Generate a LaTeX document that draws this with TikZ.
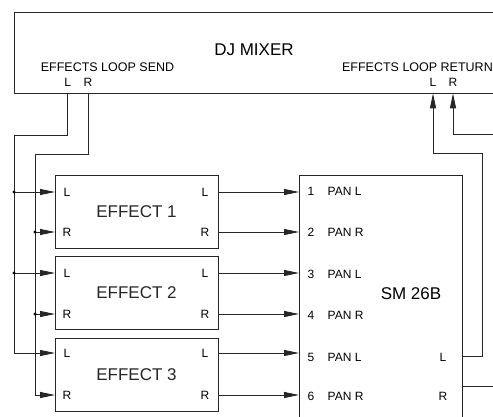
\documentclass[tikz,border=0pt]{standalone}
\usepackage{fontspec}
\setmainfont{Liberation Sans}
\usetikzlibrary{arrows.meta}
\begin{document}
\begin{tikzpicture}[x=1pt,y=-1pt,
  wire/.style={line width=0.9pt,black!85},
  arr/.style={wire,-{Triangle[length=15pt,width=6pt]}},
  fxbox/.style={draw,line width=0.9pt,black!85,minimum width=163pt,minimum height=73pt,inner sep=0pt,font=\fontsize{17}{20}\selectfont},
  big/.style={inner sep=0pt,font=\fontsize{17}{20}\selectfont},
  lbl/.style={inner sep=0pt,font=\fontsize{12}{14}\selectfont},
  mid/.style={inner sep=0pt,font=\fontsize{12.5}{14}\selectfont},
  junction/.style={circle,fill=black,inner sep=0pt,minimum size=3.4pt}]
\useasboundingbox (0,0) rectangle (493,417);
% DJ mixer (right edge outside picture)
\draw[wire] (493,12.3) -- (14,12.3) -- (14,93.3) -- (493,93.3);
\node[big] (mixer) at (254,50) {DJ MIXER};
\node[mid] (send) at (107.5,67) {EFFECTS LOOP SEND};
\node[mid,anchor=east] (ret) at (493,67) {EFFECTS LOOP RETURN};
\node[lbl] (sendLlbl) at (67.7,82) {L};
\node[lbl] (sendRlbl) at (88,82) {R};
\node[lbl] (retLlbl) at (433,82) {L};
\node[lbl] (retRlbl) at (453,82) {R};
\coordinate (sendL) at (67.7,93.3);
\coordinate (sendR) at (88,93.3);
\coordinate (retL) at (433,93.3);
\coordinate (retR) at (453,93.3);
% effect boxes
\node[fxbox] (e1) at (136.5,211.5) {EFFECT 1};
\node[fxbox] (e2) at (136.5,293) {EFFECT 2};
\node[fxbox] (e3) at (136.5,374.5) {EFFECT 3};
\foreach \n/\yl/\yr in {1/192/232,2/273/314,3/353/395}{
  \coordinate (e\n inL) at (55,\yl);
  \coordinate (e\n inR) at (55,\yr);
  \coordinate (e\n outL) at (218,\yl);
  \coordinate (e\n outR) at (218,\yr);
  \node[lbl] at (67,\yl) {L};
  \node[lbl] at (67,\yr) {R};
  \node[lbl] at (205,\yl) {L};
  \node[lbl] at (205,\yr) {R};
}
% SM 26B (bottom edge outside picture)
\draw[wire] (299,417) -- (299,175) -- (462,175) -- (462,417);
\node[big] (sm) at (411,294) {SM 26B};
\foreach \k/\y/\ty/\t in {1/192/191/PAN L,2/232/232/PAN R,3/273/274/PAN L,4/314/315/PAN R,5/353/357/PAN L,6/395/396/PAN R}{
  \coordinate (in\k) at (299,\y);
  \node[lbl] at (311,\ty) {\k};
  \node[lbl,anchor=west] at (327.5,\ty) {\t};
}
\coordinate (smoutL) at (462,356);
\coordinate (smoutR) at (462,386.5);
\node[lbl] (smLlbl) at (443,357) {L};
\node[lbl] (smRlbl) at (443,396) {R};
\coordinate (edgeR) at (493,386.5);
\coordinate (edgeRet) at (493,134);
% send wiring
\coordinate (jL1) at (14,192);
\coordinate (jL2) at (14,273);
\coordinate (jR1) at (35,232);
\coordinate (jR2) at (35,314);
\draw[arr] (sendL) -- (67.7,135) -- (14,135) |- (e3inL);
\draw[arr] (sendR) -- (88,154) -- (35,154) |- (e3inR);
\draw[arr] (jL1) -- (e1inL);
\draw[arr] (jL2) -- (e2inL);
\draw[arr] (jR1) -- (e1inR);
\draw[arr] (jR2) -- (e2inR);
\node[junction] at (jL1) {};
\node[junction] at (jL2) {};
\node[junction] at (jR1) {};
\node[junction] at (jR2) {};
% effects to SM 26B
\draw[arr] (e1outL) -- (in1);
\draw[arr] (e1outR) -- (in2);
\draw[arr] (e2outL) -- (in3);
\draw[arr] (e2outR) -- (in4);
\draw[arr] (e3outL) -- (in5);
\draw[arr] (e3outR) -- (in6);
% returns
\draw[arr] (smoutL) -- (482,356) -- (482,153) -| (retL);
\draw[arr] (edgeRet) -| (retR);
\draw[wire] (smoutR) -- (edgeR);
\end{tikzpicture}
\end{document}
